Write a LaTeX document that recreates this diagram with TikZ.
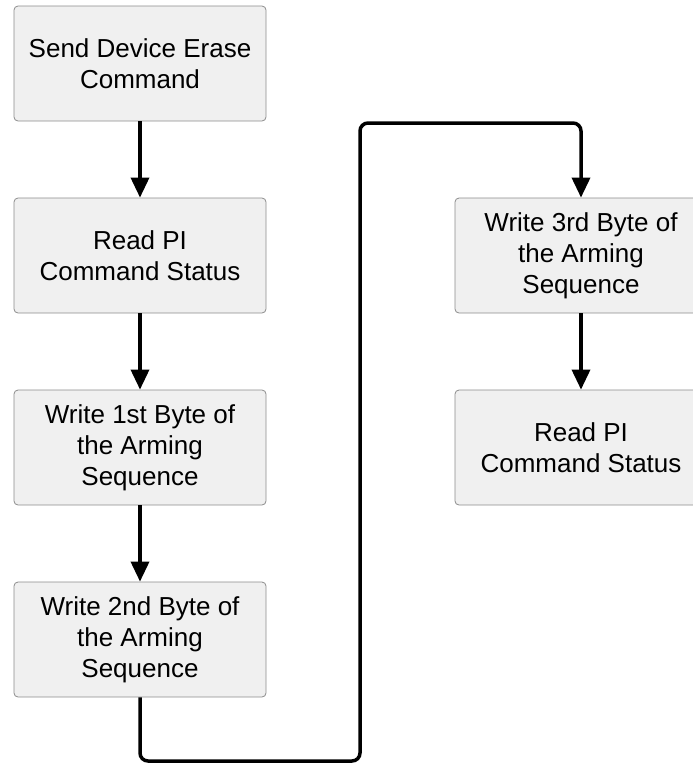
\documentclass[tikz,border=0pt]{standalone}
\usepackage{fontspec}
\setmainfont{Liberation Sans}
\usetikzlibrary{arrows.meta}
\tikzset{
    stepbox/.style={draw=black!45, fill=black!6, rounded corners=4pt, line width=0.8pt,
        minimum width=252pt, minimum height=115pt, align=center, inner sep=0pt,
        font=\fontsize{26}{31}\selectfont},
    flow/.style={line width=3.5pt, -{Triangle[width=18pt,length=20pt]}}
}
\begin{document}
\begin{tikzpicture}[x=1pt, y=-1pt]
        \useasboundingbox (0, 0) rectangle (693, 764);
        \node[stepbox] (Erase) at (140, 63.5) {Send Device Erase\\Command};
        \node[stepbox] (ReadA) at (140, 255.5) {Read PI\\Command Status};
        \node[stepbox] (ByteA) at (140, 447.5) {Write 1st Byte of\\the Arming\\Sequence};
        \node[stepbox] (ByteB) at (140, 639.5) {Write 2nd Byte of\\the Arming\\Sequence};
        \node[stepbox] (ByteC) at (581, 255.5) {Write 3rd Byte of\\the Arming\\Sequence};
        \node[stepbox] (ReadB) at (581, 447.5) {Read PI\\Command Status};
        \coordinate (Low) at (360, 761);
        \coordinate (High) at (360, 123);
        \path [flow] (Erase) edge node {} (ReadA);
        \path [flow] (ReadA) edge node {} (ByteA);
        \path [flow] (ByteA) edge node {} (ByteB);
        \path [flow] (ByteC) edge node {} (ReadB);
        \draw [flow, rounded corners=8pt] (ByteB.south) |- (Low) -- (High) -| (ByteC.north);
    \end{tikzpicture}
\end{document}
